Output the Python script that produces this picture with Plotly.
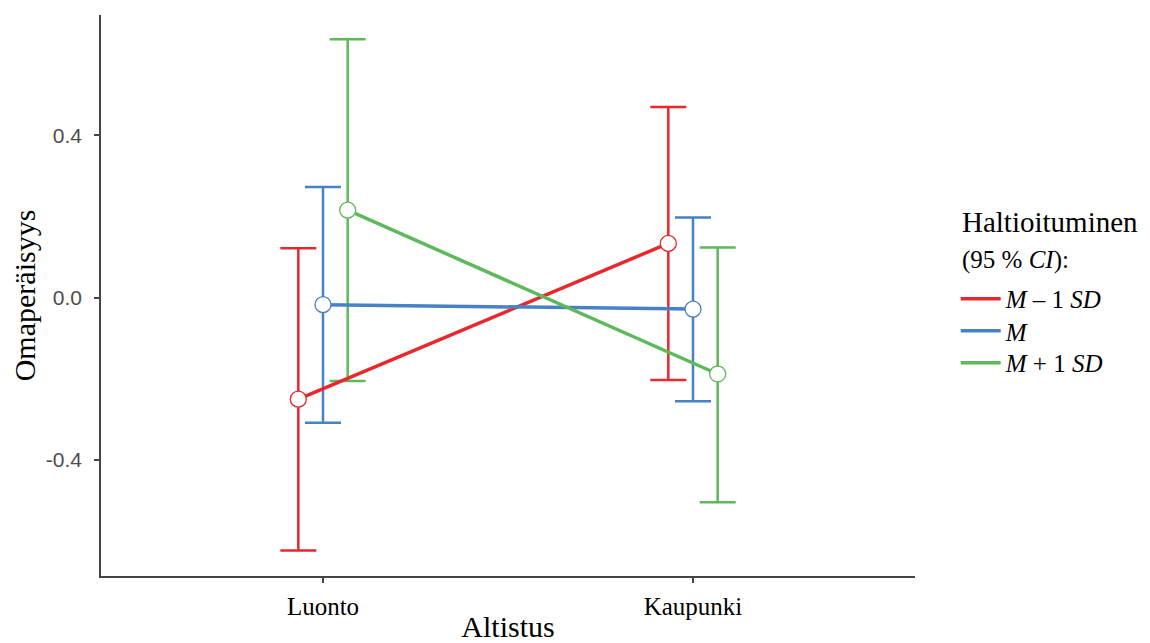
import plotly.graph_objects as go

categories = ["Luonto", "Kaupunki"]
series_names = ["<i>M</i> – 1 <i>SD</i>", "<i>M</i>", "<i>M</i> + 1 <i>SD</i>"]
means = [[-0.250, 0.134], [-0.017, -0.028], [0.216, -0.188]]
upper = [[0.122, 0.470], [0.273, 0.198], [0.637, 0.124]]
lower = [[-0.623, -0.203], [-0.308, -0.255], [-0.205, -0.504]]
colors = ["#E8282C", "#4682C4", "#5DB95B"]
dodge = [-0.0667, 0.0, 0.0667]
ytick_vals = [-0.4, 0.0, 0.4]
ytick_text = ["-0.4", "0.0", "0.4"]

serif = "Liberation Serif, Times New Roman, serif"
legend_ids = ["legend", "legend2", "legend3"]
legend_y = [0.4938, 0.4367, 0.3797]

fig = go.Figure()

# error bars
for i in range(3):
    xs = [j + 1 + dodge[i] for j in range(len(categories))]
    fig.add_trace(go.Scatter(
        x=xs, y=means[i], mode="markers", marker=dict(size=0.1, color=colors[i], opacity=0),
        error_y=dict(type="data", symmetric=False,
                     array=[u - m for u, m in zip(upper[i], means[i])],
                     arrayminus=[m - l for m, l in zip(means[i], lower[i])],
                     color=colors[i], thickness=2.5, width=18),
        showlegend=False, hoverinfo="skip"))

# lines
for i in range(3):
    xs = [j + 1 + dodge[i] for j in range(len(categories))]
    fig.add_trace(go.Scatter(
        x=xs, y=means[i], mode="lines", line=dict(color=colors[i], width=3.5),
        name=series_names[i], legend=legend_ids[i], showlegend=True))

# points
for i in range(3):
    xs = [j + 1 + dodge[i] for j in range(len(categories))]
    fig.add_trace(go.Scatter(
        x=xs, y=means[i], mode="markers",
        marker=dict(size=16, color="white", line=dict(color=colors[i], width=1.3)),
        showlegend=False))

legend_common = dict(xanchor="left", yanchor="middle", xref="paper", yref="paper",
                     font=dict(family=serif, size=25, color="black"),
                     itemwidth=40, bgcolor="rgba(0,0,0,0)")

fig.update_layout(
    width=1142, height=635,
    margin=dict(l=93, r=235, t=7, b=67),
    paper_bgcolor="white", plot_bgcolor="white",
    xaxis=dict(range=[0.4, 2.6], tickvals=[1, 2], ticktext=categories,
               showline=True, linecolor="#444444", linewidth=1.5,
               ticks="outside", ticklen=5, tickcolor="#444444", tickwidth=1.5,
               ticklabelstandoff=2, automargin=False,
               showgrid=False, zeroline=False,
               tickfont=dict(family=serif, size=25, color="black"),
               title=dict(text="Altistus", font=dict(family=serif, size=30, color="black"), standoff=9)),
    yaxis=dict(range=[-0.686, 0.697], tickvals=ytick_vals, ticktext=ytick_text,
               showline=True, linecolor="#444444", linewidth=1.5,
               ticks="outside", ticklen=5, tickcolor="#444444", tickwidth=1.5,
               ticklabelstandoff=8, automargin=False,
               showgrid=False, zeroline=False,
               tickfont=dict(family="Liberation Sans, Arial, sans-serif", size=21, color="#4d4d4d"),
               title=dict(text="Omaperäisyys", font=dict(family=serif, size=30, color="black"), standoff=1)),
    legend=dict(x=1.05, y=legend_y[0], **legend_common),
    legend2=dict(x=1.05, y=legend_y[1], **legend_common),
    legend3=dict(x=1.05, y=legend_y[2], **legend_common),
)

fig.add_annotation(text="Haltioituminen", xref="paper", yref="paper",
                   x=1.055, y=0.631, xanchor="left", yanchor="middle", showarrow=False,
                   font=dict(family=serif, size=29, color="black"))
fig.add_annotation(text="(95 % <i>CI</i>):", xref="paper", yref="paper",
                   x=1.055, y=0.563, xanchor="left", yanchor="middle", showarrow=False,
                   font=dict(family=serif, size=25, color="black"))

fig.write_html("out.html")
